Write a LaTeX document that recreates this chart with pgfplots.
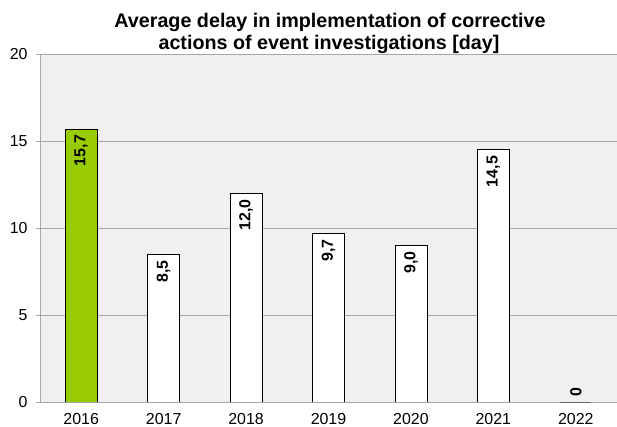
\documentclass[border=0pt]{standalone}
\usepackage{fontspec}
\setmainfont{Liberation Sans}
\usepackage{pgfplots}
\pgfplotsset{compat=1.18}
\definecolor{bargreen}{HTML}{99CC00}
\definecolor{plotbg}{HTML}{F0F0F0}
\definecolor{gridgray}{HTML}{A6A6A6}
\begin{document}
\begin{tikzpicture}
\path[use as bounding box] (0,0) rectangle (617bp,427bp);
\begin{axis}[
  at={(40bp,25bp)}, anchor=south west,
  scale only axis, width=577bp, height=348bp,
  xmin=-0.5, xmax=6.5, ymin=0, ymax=20,
  xtick={0,1,2,3,4,5,6},
  xticklabels={2016,2017,2018,2019,2020,2021,2022},
  ytick={0,5,10,15,20},
  axis background/.style={fill=plotbg},
  axis line style={draw=none},
  axis x line*=bottom, axis y line*=left,
  ymajorgrids, grid style={gridgray, line width=0.8bp},
  major x tick style={draw=none},
  major y tick style={gridgray, line width=0.8bp},
  tick align=outside, major tick length=4bp,
  tick label style={font=\fontsize{16}{18}\selectfont},
  /pgf/number format/assume math mode=true,
  yticklabel style={xshift=-5bp},
  xticklabel style={yshift=-4bp},
  ybar, bar width=32bp, bar shift=0pt,
  clip=false,
  nodes near coords={\pgfmathprintnumber[use comma,fixed,fixed zerofill,precision=1]{\pgfplotspointmeta}},
  every node near coord/.append style={rotate=90, anchor=east, inner sep=6bp, font=\bfseries\fontsize{16}{18}\selectfont, black},
]
\addplot[fill=bargreen, draw=black, line width=0.6bp] coordinates {(0,15.7)};
\addplot[fill=white, draw=black, line width=0.6bp] coordinates {(1,8.5) (2,12.0) (3,9.7) (4,9.0) (5,14.5)};
\addplot[fill=white, draw=gray, line width=0.8bp, nodes near coords={0}, every node near coord/.append style={anchor=west, inner sep=5bp}] coordinates {(6,0)};
\draw[gridgray, line width=0.8bp] (axis cs:-0.5,0) -- (axis cs:-0.5,20);
\draw[gridgray, line width=0.8bp] (axis cs:-0.5,0) -- (axis cs:6.5,0);
\draw[gray!80!black, line width=0.9bp] (axis cs:5.81,0) -- (axis cs:6.19,0);
\end{axis}
\node[anchor=base, font=\bfseries\fontsize{19.8}{22}\selectfont] at (330bp,399bp) {Average delay in implementation of corrective};
\node[anchor=base, font=\bfseries\fontsize{19.8}{22}\selectfont] at (329bp,377bp) {actions of event investigations [day]};
\end{tikzpicture}
\end{document}
